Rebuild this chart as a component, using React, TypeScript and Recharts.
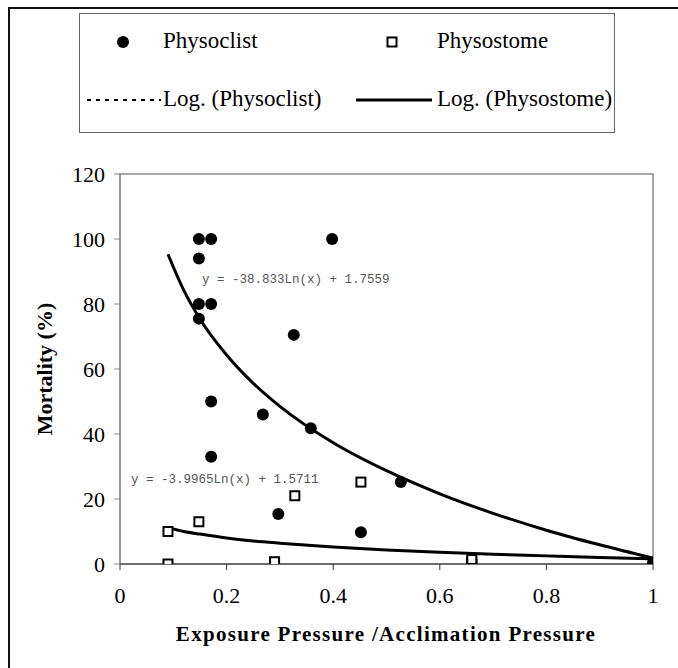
import {
  ComposedChart,
  Line,
  ReferenceArea,
  Scatter,
  XAxis,
  YAxis,
} from 'recharts'

// pressure ratio (x) vs mortality % (y)
const physoclistX = [0.148, 0.171, 0.148, 0.148, 0.171, 0.148, 0.171, 0.171, 0.268, 0.326, 0.398, 0.358, 0.297, 0.452, 0.527, 1]
const physoclistY = [100, 100, 94, 80, 80, 75.5, 50, 33, 46, 70.5, 100, 41.8, 15.4, 9.8, 25.2, 0]

const physostomeX = [0.09, 0.09, 0.148, 0.29, 0.328, 0.452, 0.66, 0.66, 0.66, 1]
const physostomeY = [10, 0, 13, 0.7, 21, 25.2, 0, 0.7, 1.4, 0]

// log trendlines
const trendX = [0.09, 0.12, 0.15, 0.2, 0.25, 0.3, 0.4, 0.5, 0.6, 0.7, 0.8, 0.9, 1]
const physoclistTrend = [95.3, 84.1, 75.4, 64.3, 55.6, 48.5, 37.3, 28.7, 21.6, 15.6, 10.4, 5.9, 1.8]
const physostomeTrend = [11.2, 10.0, 9.2, 8.0, 7.1, 6.4, 5.2, 4.3, 3.6, 3.0, 2.5, 2.0, 1.6]

const xTicks = [0, 0.2, 0.4, 0.6, 0.8, 1]
const yTicks = [0, 20, 40, 60, 80, 100, 120]

const toPoints = (xs: number[], ys: number[]) => xs.map((x, i) => ({ x, y: ys[i] }))

const physoclistData = toPoints(physoclistX, physoclistY)
const physostomeData = toPoints(physostomeX, physostomeY)
const physoclistLine = toPoints(trendX, physoclistTrend)
const physostomeLine = toPoints(trendX, physostomeTrend)

const serif = 'Liberation Serif, DejaVu Serif, serif'
const mono = 'Liberation Mono, DejaVu Sans Mono, monospace'

const Dot = (props: any) => <circle cx={props.cx} cy={props.cy} r={6} fill="#000" />
const Box = (props: any) => (
  <rect x={props.cx - 4.5} y={props.cy - 4.5} width={9} height={9} fill="#fff" stroke="#000" strokeWidth={2} />
)

export default function App() {
  return (
    <div
      style={{
        position: 'absolute',
        left: 0,
        top: 0,
        width: 678,
        height: 668,
        overflow: 'hidden',
        background: '#fff',
        fontFamily: serif,
      }}
    >
      <div
        style={{
          position: 'absolute',
          left: 8,
          top: 7,
          width: 700,
          height: 700,
          border: '2px solid #111',
        }}
      />
      <ComposedChart
        width={678}
        height={668}
        margin={{ top: 174, right: 25, bottom: 0, left: 20 }}
        style={{ position: 'absolute', left: 0, top: 0, fontFamily: serif }}
      >
        <XAxis
          type="number"
          dataKey="x"
          domain={[0, 1]}
          ticks={xTicks}
          tickFormatter={(v) => String(v)}
          height={104}
          stroke="#333"
          tickSize={6}
          tickMargin={17}
          tick={{ fill: '#000', fontSize: 22, fontFamily: serif }}
          allowDataOverflow
        />
        <YAxis
          type="number"
          dataKey="y"
          domain={[0, 120]}
          ticks={yTicks}
          width={100}
          stroke="#888"
          tickSize={6}
          tickMargin={9}
          tick={{ fill: '#000', fontSize: 22, fontFamily: serif }}
          allowDataOverflow
        />
        <ReferenceArea x1={0} x2={1} y1={0} y2={120} fill="none" stroke="#8c8c8c" strokeWidth={1.5} />
        <Scatter data={physostomeData} shape={Box} isAnimationActive={false} />
        <Scatter data={physoclistData} shape={Dot} isAnimationActive={false} />
        <Line
          data={physoclistLine}
          dataKey="y"
          type="monotone"
          stroke="#000"
          strokeWidth={3}
          dot={false}
          activeDot={false}
          isAnimationActive={false}
        />
        <Line
          data={physostomeLine}
          dataKey="y"
          type="monotone"
          stroke="#000"
          strokeWidth={3}
          dot={false}
          activeDot={false}
          isAnimationActive={false}
        />
      </ComposedChart>
      <svg width={678} height={668} style={{ position: 'absolute', left: 0, top: 0, pointerEvents: 'none' }}>
        <rect x={79.5} y={13.5} width={535} height={119} fill="none" stroke="#666" strokeWidth={1} />
        <circle cx={123} cy={42} r={6} fill="#000" />
        <rect x={387.5} y={37.5} width={9} height={9} fill="#fff" stroke="#000" strokeWidth={2} />
        <line x1={87} x2={161} y1={100} y2={100} stroke="#000" strokeWidth={2} strokeDasharray="4 5" />
        <line x1={356} x2={432} y1={100} y2={100} stroke="#000" strokeWidth={3} />
        <g style={{ fontFamily: serif }} fontSize={23} fill="#000">
          <text x={163} y={48}>Physoclist</text>
          <text x={437} y={48}>Physostome</text>
          <text x={163} y={106}>Log. (Physoclist)</text>
          <text x={437} y={106}>Log. (Physostome)</text>
        </g>
        <g style={{ fontFamily: mono }} fontSize={12.5} fill="#555">
          <text x={202} y={283}>y = -38.833Ln(x) + 1.7559</text>
          <text x={131} y={483}>y = -3.9965Ln(x) + 1.5711</text>
        </g>
        <text
          x={386}
          y={641}
          textAnchor="middle"
          style={{ fontFamily: serif }}
          fontSize={21}
          fontWeight="bold"
          letterSpacing={1.3}
        >
          Exposure Pressure /Acclimation Pressure
        </text>
        <text
          transform="translate(52 369) rotate(-90)"
          textAnchor="middle"
          style={{ fontFamily: serif }}
          fontSize={22}
          fontWeight="bold"
        >
          Mortality (%)
        </text>
      </svg>
    </div>
  )
}
